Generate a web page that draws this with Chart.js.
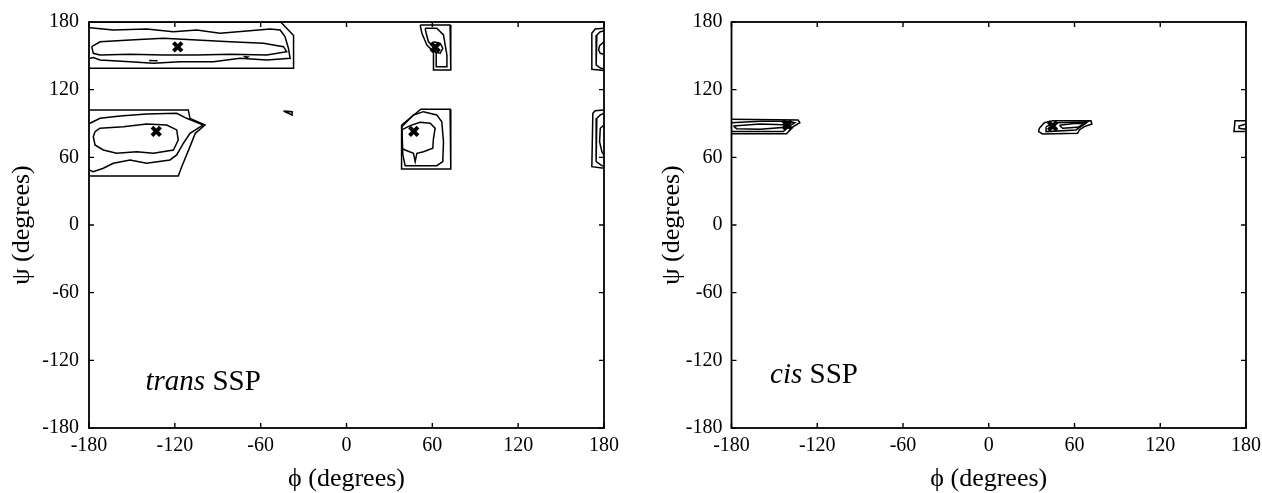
<!DOCTYPE html>
<html>
<head>
<meta charset="utf-8">
<script src="https://cdn.jsdelivr.net/npm/chart.js@4.4.1/dist/chart.umd.min.js"></script>
<style>
  html, body { margin: 0; padding: 0; background: #fff; }
  #wrap { position: relative; width: 1262px; height: 493px; }
  #wrap canvas { position: absolute; top: 0; }
</style>
</head>
<body>
<div id="wrap">
  <canvas id="c1" width="631" height="493" style="left:0"></canvas>
  <canvas id="c2" width="631" height="493" style="left:631px"></canvas>
</div>
<script>
// ---------- tick labels ----------
const tickValues = [-180, -120, -60, 0, 60, 120, 180];

// ---------- trans SSP contours [phi, psi] ----------
const transA1 = [[-180,180],[-46,180],[-37,168],[-37,139],[-180,139]];
const transA2 = [[-179.3,175],[-163,172.9],[-139.7,173.8],[-121,171.4],[-104.7,172.9],[-88.4,170],[-69.7,172],[-53.4,173.8],[-46.4,172.9],[-43,167],[-40.6,156.7],[-39.4,147.8],[-55.7,146.3],[-74.4,147.8],[-93,144.8],[-116.4,144.8],[-135,143.4],[-151.3,144.8],[-172.3,146.3],[-177,148.4],[-179.3,147.8]];
const transA3 = [[-178.1,158.1],[-172.3,162.5],[-151.3,164],[-128,165.5],[-104.7,164],[-81.4,162.5],[-58.1,161.1],[-44.1,158.1],[-41.8,153.7],[-55.7,150.7],[-81.4,151.4],[-104.7,150.7],[-128,150.7],[-151.3,151.4],[-172.3,150.7],[-177,152.2],[-178.1,158.1]];
const transA4 = [[-138,145.8],[-132,145.6]];
const transA5 = [[-72,149.5],[-69,149],[-70.5,148]];
const transB1 = [[-180,102],[-110.6,102],[-109.4,94.6],[-98.9,88.7],[-105.7,81.3],[-109.4,69.5],[-115.2,51.7],[-117.6,43.5],[-180,43.5]];
const transB2 = [[-179.3,90.2],[-172.3,94.6],[-158.3,96.7],[-139.7,98.4],[-118.7,99],[-111.7,94.6],[-100.1,88.7],[-109.4,81.3],[-114,72.5],[-118.7,62.1],[-123.4,57.7],[-139.7,54.7],[-151.3,57.7],[-163,54.7],[-170,50.3],[-177,47.3],[-180,48.8]];
const transB3 = [[-175.8,82.7],[-172.3,85.8],[-156,87.2],[-139.7,89.6],[-125.7,88.7],[-118.7,84.3],[-117.6,75.4],[-121,66.5],[-135,63.6],[-146.6,65],[-160.7,63.6],[-170,66.5],[-175.8,71],[-177,78.3],[-175.8,82.7]];
const transT1 = [[-44,101],[-38,100.5],[-38,97.5],[-44,101]];
const transC1 = [[51.5,177.3],[72.4,177.3],[72.9,137.4],[60.8,137.4],[60.8,153.7],[56.2,159.6],[52.7,170],[51.5,177.3]];
const transC2 = [[55,174.4],[63.1,174.4],[67.8,168.5],[69,159.6],[70.2,150.7],[70.2,140.4],[63.1,140.4],[62.7,152.3],[60.8,158.1],[57.3,162.5],[55.7,170],[55,174.4]];
const transC3 = [[60.8,162.5],[65.5,161.1],[67.3,156.7],[65.5,152.3],[62,153.1],[60.3,158.1],[60.8,162.5]];
const transD1 = [[180,174.5],[173.8,173.8],[171.5,170],[171.5,138],[180,137]];
const transD2 = [[180,172],[177.4,171.4],[175,168.5],[174.5,141.9],[177.7,139],[180,138.5]];
const transD3 = [[180,162.5],[176.9,159],[176.2,155.2],[177.4,152.2],[180,151.4]];
const transE1 = [[38.5,88.7],[52,102.6],[72.4,102.6],[72.9,49.7],[38.5,49.7],[38.5,88.7]];
const transE2 = [[38.7,87.2],[46.8,97.6],[53.8,100.5],[63.1,97.6],[66.6,91.6],[67.8,73.9],[67.3,56.2],[63.1,52.6],[41,52.6],[39.4,62.1],[38.7,87.2]];
const transE3 = [[38.7,84.3],[44.5,88.1],[51.5,91.1],[58.5,90.2],[62,85.8],[60.8,76.9],[60.3,68],[53.8,65],[49.2,63.6],[48,56.2],[46.8,63.6],[41,66.5],[38.7,68],[38.7,84.3]];
const transF1 = [[180,102],[173.8,101.4],[172.2,99],[171.5,51.7],[180,50.3]];
const transF2 = [[180,99],[177.4,97.6],[175,94.6],[174.5,56.2],[178.5,52.6],[180,52]];
const transF3 = [[180,88.7],[177.4,85.8],[176.9,73.9],[178.5,65],[180,62.1]];
const transMinima = [[-118,158],[-133,83],[62,157.6],[47,83]];

// ---------- cis SSP contours [phi, psi] ----------
const cisG1 = [[-180,93.7],[-133.4,93.1],[-132.2,90.7],[-136.8,87.2],[-141.5,81],[-180,81]];
const cisG2 = [[-180,90.7],[-160,92],[-141.5,92],[-135.7,90.7],[-139.1,87.8],[-143.8,82.8],[-180,82.8]];
const cisG3 = [[-178.7,87.8],[-160,89.6],[-143.8,89],[-142.6,86.6],[-160,84.9],[-176.4,85.4],[-178.7,87.8]];
const cisH1 = [[35.4,85.8],[38.9,90.7],[44.7,92.5],[71.5,92.5],[72.2,89.6],[66.9,87.2],[63.4,84.3],[62.2,81.3],[37.7,80.7],[34.9,82.8],[35.4,85.8]];
const cisH2 = [[40.1,87.2],[47.1,90.7],[69.2,91.4],[65.7,88.4],[61.1,84.3],[40.1,82.8],[40.1,87.2]];
const cisH3 = [[49.4,88.4],[61.1,90.2],[66.9,89.6],[62.2,86.6],[51.7,85.8],[49.4,88.4]];
const cisI1 = [[180,92.5],[172.3,92.5],[171.6,82.8],[180,82.8]];
const cisI2 = [[180,89.6],[175.1,87.8],[175.1,85.8],[180,84.9]];
const cisMinima = [[-141,88.7],[44.7,87.8]];

const transContours = [transA1,transA2,transA3,transA4,transA5,transB1,transB2,transB3,transT1,transC1,transC2,transC3,transD1,transD2,transD3,transE1,transE2,transE3,transF1,transF2,transF3];
const cisContours = [cisG1,cisG2,cisG3,cisH1,cisH2,cisH3,cisI1,cisI2];

const SERIF = "'Liberation Serif', 'Times New Roman', serif";

function toPts(arr) { return arr.map(p => ({x: p[0], y: p[1]})); }

function makeDatasets(contours, minima) {
  const ds = contours.map(c => ({
    data: toPts(c), showLine: true, fill: false,
    borderColor: '#000', borderWidth: 1.5, pointRadius: 0, tension: 0
  }));
  ds.push({
    data: toPts(minima), showLine: false,
    pointStyle: 'crossRot', pointRadius: 6, borderWidth: 4,
    borderColor: '#000', backgroundColor: '#000'
  });
  return ds;
}

const framePlugin = {
  id: 'frame',
  afterDraw(chart, args, opts) {
    const {ctx, chartArea: a, scales} = chart;
    ctx.save();
    ctx.strokeStyle = '#000';
    ctx.lineWidth = 1.8;
    ctx.strokeRect(a.left, a.top, a.right - a.left, a.bottom - a.top);
    ctx.lineWidth = 1.4;
    const tl = 5;
    ctx.beginPath();
    tickValues.forEach(v => {
      const px = scales.x.getPixelForValue(v);
      const py = scales.y.getPixelForValue(v);
      ctx.moveTo(px, a.bottom); ctx.lineTo(px, a.bottom - tl);
      ctx.moveTo(px, a.top); ctx.lineTo(px, a.top + tl);
      ctx.moveTo(a.left, py); ctx.lineTo(a.left + tl, py);
      ctx.moveTo(a.right, py); ctx.lineTo(a.right - tl, py);
    });
    ctx.stroke();
    // panel label
    const lx = scales.x.getPixelForValue(opts.phi);
    const ly = scales.y.getPixelForValue(opts.psi);
    ctx.fillStyle = '#000';
    ctx.textBaseline = 'alphabetic';
    ctx.textAlign = 'left';
    ctx.font = 'italic ' + opts.size + 'px ' + SERIF;
    ctx.fillText(opts.italic, lx, ly);
    const w = ctx.measureText(opts.italic + ' ').width;
    ctx.font = opts.size + 'px ' + SERIF;
    ctx.fillText(opts.normal, lx + w, ly);
    ctx.restore();
  }
};

function makeChart(id, contours, minima, cfg) {
  return new Chart(document.getElementById(id), {
    type: 'scatter',
    data: { datasets: makeDatasets(contours, minima) },
    plugins: [framePlugin],
    options: {
      responsive: false, animation: false,
      layout: { padding: { left: 0, top: 22, right: cfg.padRight, bottom: 0 } },
      plugins: {
        legend: { display: false }, tooltip: { enabled: false },
        frame: cfg.label
      },
      scales: {
        x: {
          type: 'linear', min: -180, max: 180,
          afterBuildTicks: s => { s.ticks = tickValues.map(v => ({value: v})); },
          afterFit: s => { s.height = 65; s.paddingLeft = 0; s.paddingRight = 0; },
          grid: { display: false, drawTicks: false }, border: { display: false },
          ticks: { color: '#000', font: { family: SERIF, size: 20 }, padding: 6, maxRotation: 0, autoSkip: false, callback: v => String(v) },
          title: { display: true, text: 'ϕ (degrees)', color: '#000', font: { family: SERIF, size: 26, lineHeight: 1 }, padding: { top: 0, bottom: 1 } }
        },
        y: {
          type: 'linear', min: -180, max: 180,
          afterBuildTicks: s => { s.ticks = tickValues.map(v => ({value: v})); },
          afterFit: s => { s.width = cfg.yWidth; s.paddingTop = 0; s.paddingBottom = 0; },
          grid: { display: false, drawTicks: false }, border: { display: false },
          ticks: { color: '#000', font: { family: SERIF, size: 20 }, padding: cfg.yPad, autoSkip: false, callback: v => String(v) },
          title: { display: true, text: 'ψ (degrees)', color: '#000', font: { family: SERIF, size: 26, lineHeight: 1 }, padding: { top: cfg.yTitlePad, bottom: 0 } }
        }
      }
    }
  });
}

makeChart('c1', transContours, transMinima, {
  padRight: 27, yWidth: 89, yPad: 10, yTitlePad: 9,
  label: { phi: -140.5, psi: -146, italic: 'trans', normal: 'SSP', size: 29 }
});
makeChart('c2', cisContours, cisMinima, {
  padRight: 16, yWidth: 100.5, yPad: 9, yTitlePad: 28,
  label: { phi: -153, psi: -140.5, italic: 'cis', normal: 'SSP', size: 29 }
});
</script>
</body>
</html>
